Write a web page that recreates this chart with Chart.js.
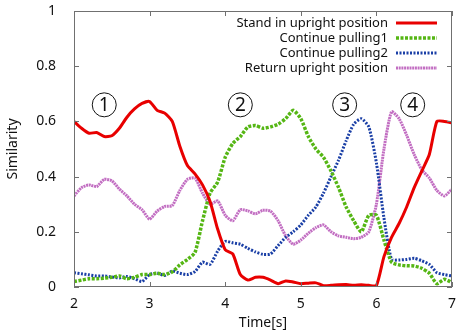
<!DOCTYPE html>
<html lang="en">
<head>
  <meta charset="UTF-8">
  <title>Similarity over time</title>
  <script src="https://cdn.jsdelivr.net/npm/chart.js"></script>
  <style>
    body { margin: 0; background: #fff; }
    #wrap { width: 456px; height: 335px; }
  </style>
</head>
<body>
  <div id="wrap"><canvas id="simChart" width="456" height="335"></canvas></div>

  <script>
    // time axis, 0.1 s steps
    const times = [2.0,2.1,2.2,2.3,2.4,2.5,2.6,2.7,2.8,2.9,3.0,3.1,3.2,3.3,3.4,3.5,3.6,3.7,3.8,3.9,
                   4.0,4.1,4.2,4.3,4.4,4.5,4.6,4.7,4.8,4.9,5.0,5.1,5.2,5.3,5.4,5.5,5.6,5.7,5.8,5.9,
                   6.0,6.1,6.2,6.3,6.4,6.5,6.6,6.7,6.8,6.9,7.0];

    const standUpright = [0.60,0.575,0.557,0.56,0.545,0.548,0.575,0.615,0.645,0.665,0.672,0.64,0.63,0.60,0.51,0.44,0.41,0.37,0.31,0.21,
                          0.135,0.12,0.045,0.025,0.035,0.035,0.025,0.012,0.022,0.018,0.012,0.014,0.015,0.005,0.006,0.008,0.009,0.006,0.008,0.006,
                          0.005,0.11,0.18,0.23,0.29,0.36,0.42,0.48,0.60,0.60,0.595];

    const pulling1 = [0.02,0.025,0.03,0.03,0.032,0.035,0.04,0.03,0.035,0.045,0.045,0.05,0.045,0.055,0.08,0.10,0.125,0.24,0.34,0.38,
                      0.47,0.52,0.545,0.58,0.585,0.575,0.58,0.59,0.61,0.64,0.61,0.545,0.50,0.47,0.42,0.36,0.29,0.24,0.20,0.26,
                      0.26,0.17,0.09,0.08,0.077,0.076,0.068,0.05,0.012,0.028,0.016];

    const pulling2 = [0.052,0.048,0.044,0.04,0.04,0.036,0.033,0.038,0.03,0.02,0.045,0.05,0.042,0.058,0.05,0.045,0.056,0.09,0.082,0.13,
                      0.165,0.16,0.155,0.14,0.127,0.118,0.12,0.15,0.18,0.20,0.225,0.26,0.29,0.34,0.40,0.46,0.53,0.59,0.61,0.58,
                      0.45,0.25,0.10,0.098,0.10,0.104,0.095,0.082,0.052,0.045,0.04];

    const returnUpright = [0.33,0.36,0.37,0.364,0.39,0.385,0.355,0.33,0.30,0.28,0.246,0.275,0.292,0.295,0.35,0.39,0.395,0.34,0.30,0.312,
                           0.26,0.24,0.28,0.276,0.265,0.278,0.275,0.24,0.185,0.155,0.17,0.195,0.215,0.225,0.20,0.185,0.18,0.175,0.18,0.20,
                           0.30,0.50,0.635,0.61,0.55,0.48,0.425,0.395,0.35,0.33,0.355];

    const seriesNames = ['Stand in upright position', 'Continue pulling1', 'Continue pulling2', 'Return upright position'];
    const xTicks = [2, 3, 4, 5, 6, 7];
    const yTicks = [0, 0.2, 0.4, 0.6, 0.8, 1];

    // circled phase markers, in data coordinates
    const phaseLabels = ['1', '2', '3', '4'];
    const phaseX = [2.4, 4.2, 5.58, 6.48];
    const phaseY = [0.66, 0.66, 0.66, 0.66];

    const FONT = '"Noto Sans", sans-serif';
    const toPoints = ys => times.map((t, i) => ({ x: t, y: ys[i] }));

    // inward gnuplot-style ticks, frame, circled numbers and legend
    const framePlugin = {
      id: 'frame',
      afterDatasetsDraw(chart) {
        const { ctx, chartArea: a, scales } = chart;
        ctx.save();
        ctx.strokeStyle = '#707070';
        ctx.lineWidth = 1;
        ctx.setLineDash([]);
        ctx.strokeRect(a.left + 0.5, a.top + 0.5, a.right - a.left - 1, a.bottom - a.top - 1);
        ctx.beginPath();
        xTicks.forEach(v => {
          const px = Math.round(scales.x.getPixelForValue(v)) + 0.5;
          ctx.moveTo(px, a.bottom); ctx.lineTo(px, a.bottom - 5);
          ctx.moveTo(px, a.top); ctx.lineTo(px, a.top + 5);
        });
        yTicks.forEach(v => {
          const py = Math.round(scales.y.getPixelForValue(v)) + 0.5;
          ctx.moveTo(a.left, py); ctx.lineTo(a.left + 5, py);
          ctx.moveTo(a.right, py); ctx.lineTo(a.right - 5, py);
        });
        ctx.stroke();

        // circled numbers
        ctx.strokeStyle = '#111';
        ctx.fillStyle = '#111';
        ctx.font = '19px ' + FONT;
        ctx.textAlign = 'center';
        ctx.textBaseline = 'middle';
        phaseLabels.forEach((t, i) => {
          const cx = scales.x.getPixelForValue(phaseX[i]);
          const cy = scales.y.getPixelForValue(phaseY[i]);
          ctx.beginPath();
          ctx.arc(cx, cy, 12, 0, Math.PI * 2);
          ctx.stroke();
          ctx.fillText(t, cx, cy + 1);
        });

        // legend, top right inside the plot
        ctx.font = '13px ' + FONT;
        ctx.textAlign = 'right';
        chart.data.datasets.forEach((ds, i) => {
          const y = a.top + 12 + i * 15;
          ctx.fillStyle = '#111';
          ctx.fillText(ds.label, a.right - 64, y);
          ctx.beginPath();
          ctx.strokeStyle = ds.borderColor;
          ctx.lineWidth = ds.borderWidth;
          ctx.setLineDash(ds.borderDash || []);
          ctx.moveTo(a.right - 56, y);
          ctx.lineTo(a.right - 15, y);
          ctx.stroke();
        });
        ctx.restore();
      }
    };

    const ctx = document.getElementById('simChart').getContext('2d');
    new Chart(ctx, {
      type: 'line',
      data: {
        datasets: [
          { label: seriesNames[0], data: toPoints(standUpright), borderColor: '#e80000', borderWidth: 3 },
          { label: seriesNames[1], data: toPoints(pulling1), borderColor: '#55b614', borderWidth: 3.5, borderDash: [3, 1.5] },
          { label: seriesNames[2], data: toPoints(pulling2), borderColor: '#1a3fa6', borderWidth: 3, borderDash: [2, 1.5] },
          { label: seriesNames[3], data: toPoints(returnUpright), borderColor: '#c26ec2', borderWidth: 3, borderDash: [2, 0.7] }
        ]
      },
      options: {
        responsive: false,
        animation: false,
        events: [],
        elements: { point: { radius: 0 }, line: { tension: 0.2, fill: false, borderCapStyle: 'butt' } },
        layout: { padding: { top: 11, right: 4, left: 0, bottom: 0 } },
        plugins: { legend: { display: false }, tooltip: { enabled: false } },
        scales: {
          x: {
            type: 'linear', min: 2, max: 7,
            afterFit: s => { s.height = 48; s.paddingLeft = 0; s.paddingRight = 0; },
            afterBuildTicks: s => { s.ticks = xTicks.map(v => ({ value: v })); },
            grid: { display: false },
            border: { display: false },
            ticks: { color: '#111', font: { family: FONT, size: 14 }, padding: 1, maxRotation: 0 },
            title: { display: true, text: 'Time[s]', color: '#111', font: { family: FONT, size: 14 }, padding: { top: 1 } }
          },
          y: {
            min: 0, max: 1,
            afterFit: s => { s.width = 74; s.paddingTop = 0; s.paddingBottom = 0; },
            afterBuildTicks: s => { s.ticks = yTicks.map(v => ({ value: v })); },
            grid: { display: false },
            border: { display: false },
            ticks: { color: '#111', font: { family: FONT, size: 14 }, padding: 10, callback: v => String(+v.toFixed(1)) },
            title: { display: true, text: 'Similarity', color: '#111', font: { family: FONT, size: 14 }, padding: { top: 5, bottom: 0 } }
          }
        }
      },
      plugins: [framePlugin]
    });
  </script>
</body>
</html>
